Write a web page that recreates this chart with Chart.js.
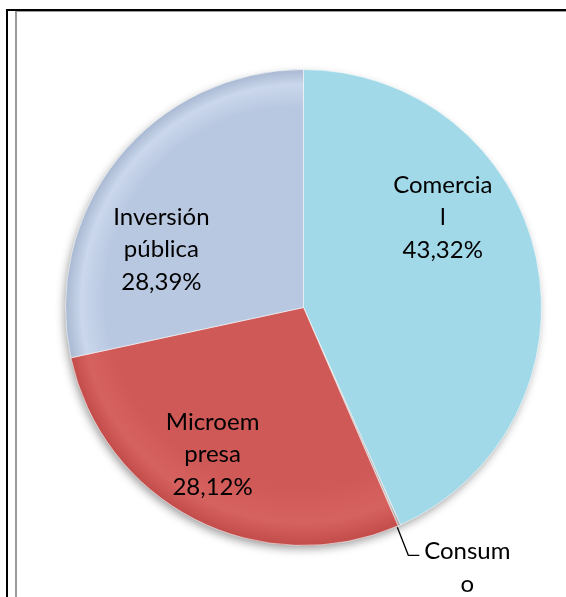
<!DOCTYPE html>
<html>
<head>
<meta charset="utf-8">
<script src="https://cdn.jsdelivr.net/npm/chart.js@4/dist/chart.umd.min.js"></script>
<style>
  html, body { margin: 0; padding: 0; background: #fff; }
  #wrap { position: relative; width: 566px; height: 597px; }
</style>
</head>
<body>
<div id="wrap"><canvas id="c" width="566" height="597"></canvas></div>
<script>
// ---- data ----
const categories = ['Comercial', 'Consumo', 'Microempresa', 'Inversión pública'];
const values = [43.32, 0.17, 28.12, 28.39];
const labelLines = [['Comercia', 'l'], ['Consum', 'o'], ['Microem', 'presa'], ['Inversión', 'pública']];
const showPercent = [true, false, true, true];
const sliceColors = ['#A2D9E8', '#B8B8B8', '#CF5957', '#B9C8E1'];
const sliceEdge = ['#8CC8D8', '#A0A0A0', '#C24C4A', '#A9B9D2'];
const sliceLight = ['#ACDFEC', '#C8C8C8', '#D66260', '#CAD7EC'];
// label anchors in units of radius, relative to the pie centre
const labelAnchor = [[0.585, -0.378], null, [-0.382, 0.618], [-0.597, -0.244]];

function pct(v) { return v.toFixed(2).replace('.', ',') + '%'; }

const FONT = '24px Lato, "Open Sans", sans-serif';

const framePlugin = {
  id: 'frame',
  beforeDraw(chart) {
    const ctx = chart.ctx;
    ctx.save();
    ctx.fillStyle = '#fff';
    ctx.fillRect(0, 0, chart.width, chart.height);
    ctx.fillStyle = '#000';
    ctx.fillRect(6, 9, chart.width - 6, 2);
    ctx.fillRect(6, 9, 2, chart.height - 9);
    ctx.fillStyle = '#9a9a9a';
    ctx.fillRect(15, 11, 2, chart.height - 11);
    ctx.fillRect(15, 11, chart.width - 15, 1);
    ctx.restore();
  },
  beforeDatasetsDraw(chart) {
    const arc = chart.getDatasetMeta(0).data[0];
    if (!arc) return;
    const ctx = chart.ctx;
    ctx.save();
    ctx.shadowColor = 'rgba(0,0,0,0.4)';
    ctx.shadowBlur = 10;
    ctx.shadowOffsetX = -2;
    ctx.shadowOffsetY = 4;
    ctx.fillStyle = '#bbb';
    ctx.beginPath();
    ctx.arc(arc.x, arc.y, arc.outerRadius - 1, 0, Math.PI * 2);
    ctx.fill();
    ctx.restore();
  },
  afterDatasetsDraw(chart) {
    const meta = chart.getDatasetMeta(0);
    const ctx = chart.ctx;
    ctx.save();
    ctx.font = FONT;
    ctx.fillStyle = '#000';
    ctx.textAlign = 'center';
    ctx.textBaseline = 'middle';
    const lh = 32.5;
    meta.data.forEach((a, i) => {
      const lines = labelLines[i].slice();
      if (showPercent[i]) lines.push(pct(values[i]));
      const R = a.outerRadius;
      if (labelAnchor[i]) {
        const cx = a.x + labelAnchor[i][0] * R;
        const cy = a.y + labelAnchor[i][1] * R;
        const top = cy - (lines.length - 1) * lh / 2;
        lines.forEach((t, k) => ctx.fillText(t, cx, top + k * lh));
      } else {
        // callout for a tiny slice
        const mid = (a.startAngle + a.endAngle) / 2;
        const ex = a.x + Math.cos(mid) * R;
        const ey = a.y + Math.sin(mid) * R;
        ctx.strokeStyle = '#000';
        ctx.lineWidth = 1.3;
        ctx.beginPath();
        ctx.moveTo(ex - 2, ey + 2);
        ctx.lineTo(ex + 9, ey + 30);
        ctx.lineTo(ex + 20, ey + 30);
        ctx.stroke();
        const tx = ex + 68;
        const ty = ey + 26;
        lines.forEach((t, k) => ctx.fillText(t, tx, ty + k * lh));
      }
    });
    ctx.restore();
  }
};

function grad(ctx, i) {
  const chart = ctx.chart;
  const arc = chart.getDatasetMeta(0).data[0];
  if (!arc || !arc.outerRadius) return sliceColors[i];
  const g = chart.ctx.createRadialGradient(arc.x - 40, arc.y - 50, 0, arc.x, arc.y, arc.outerRadius);
  g.addColorStop(0, sliceColors[i]);
  g.addColorStop(0.8, sliceColors[i]);
  g.addColorStop(0.92, sliceLight[i]);
  g.addColorStop(1, sliceEdge[i]);
  return g;
}

new Chart(document.getElementById('c'), {
  type: 'pie',
  data: {
    labels: categories,
    datasets: [{
      data: values,
      backgroundColor: (ctx) => grad(ctx, ctx.dataIndex),
      borderColor: 'rgba(255,255,255,0.55)',
      borderWidth: 1
    }]
  },
  options: {
    responsive: false,
    animation: false,
    rotation: 0,
    layout: { padding: { left: 65, right: 24, top: 69, bottom: 51 } },
    plugins: {
      legend: { display: false },
      tooltip: { enabled: false }
    }
  },
  plugins: [framePlugin]
});
</script>
</body>
</html>
